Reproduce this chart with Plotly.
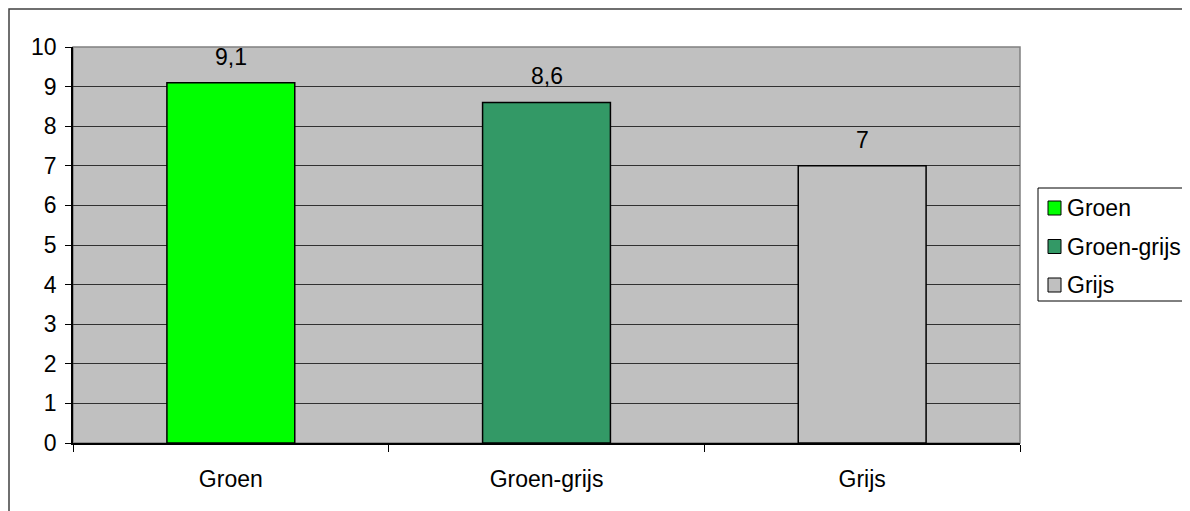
import plotly.graph_objects as go

categories = ["Groen", "Groen-grijs", "Grijs"]
values = [9.1, 8.6, 7.0]
labels = ["9,1", "8,6", "7"]
colors = ["#00FF00", "#339966", "#C0C0C0"]
y_ticks = list(range(0, 11))

FONT = "Liberation Sans, Arial, sans-serif"
FS = 23

fig = go.Figure()
for c, v, col in zip(categories, values, colors):
    fig.add_trace(go.Bar(
        x=[c], y=[v], name=c, width=0.405,
        marker=dict(color=col, line=dict(color="black", width=1.5)),
        hoverinfo="x+y", showlegend=False,
    ))

for c, v, t in zip(categories, values, labels):
    fig.add_annotation(x=c, y=v, text=t, showarrow=False, yanchor="bottom",
                       yshift=11, font=dict(family=FONT, size=FS, color="black"))

# page body has 8px margin; figure coords = reference coords - 8
W, H = 1182, 503
L, T = 65, 39
PR, PB = 1012, 435
R, B = W - PR, H - PB
pw, ph = PR - L, PB - T


def px(x):
    return (x - L) / pw


def py(y):
    return 1 - (y - T) / ph


# outer chart border
fig.add_shape(type="rect", xref="paper", yref="paper",
              x0=px(1), x1=px(W + 10), y0=py(H + 10), y1=py(1),
              line=dict(color="#404040", width=1.5), fillcolor="rgba(0,0,0,0)", layer="below")
# plot area border (gray)
fig.add_shape(type="rect", xref="paper", yref="paper", x0=0, x1=1, y0=0, y1=1,
              line=dict(color="#808080", width=1.5), fillcolor="rgba(0,0,0,0)", layer="below")

# legend (drawn like the original's boxed legend)
fig.add_shape(type="rect", xref="paper", yref="paper",
              x0=px(1030), x1=px(1177), y0=py(293), y1=py(180),
              line=dict(color="black", width=1), fillcolor="white", layer="above")
for i, (c, col) in enumerate(zip(categories, colors)):
    yc = 200 + i * 38.5
    fig.add_shape(type="rect", xref="paper", yref="paper",
                  x0=px(1040), x1=px(1053), y0=py(yc + 7), y1=py(yc - 7),
                  line=dict(color="black", width=1), fillcolor=col, layer="above")
    fig.add_annotation(xref="paper", yref="paper", x=px(1057), y=py(yc),
                       xanchor="left", yanchor="middle", text=c, showarrow=False,
                       font=dict(family=FONT, size=FS, color="black"))

fig.update_layout(
    width=W, height=H,
    margin=dict(l=L, r=R, t=T, b=B, pad=0, autoexpand=False),
    paper_bgcolor="white", plot_bgcolor="#C0C0C0",
    barmode="overlay", showlegend=False,
    font=dict(family=FONT, size=FS, color="black"),
)
fig.update_xaxes(type="category", categoryorder="array", categoryarray=categories,
                 showline=True, linecolor="black", linewidth=1.5,
                 ticks="outside", tickson="boundaries", ticklen=7, tickcolor="black",
                 ticklabelstandoff=15, showgrid=False, zeroline=False, fixedrange=True)
fig.update_yaxes(range=[0, 10], tickvals=y_ticks, showline=True, linecolor="black",
                 linewidth=1.5, ticks="outside", ticklen=6, tickcolor="black",
                 showgrid=True, gridcolor="#303030", gridwidth=1, zeroline=False,
                 ticklabelstandoff=4, fixedrange=True)

fig.write_html("out.html")
